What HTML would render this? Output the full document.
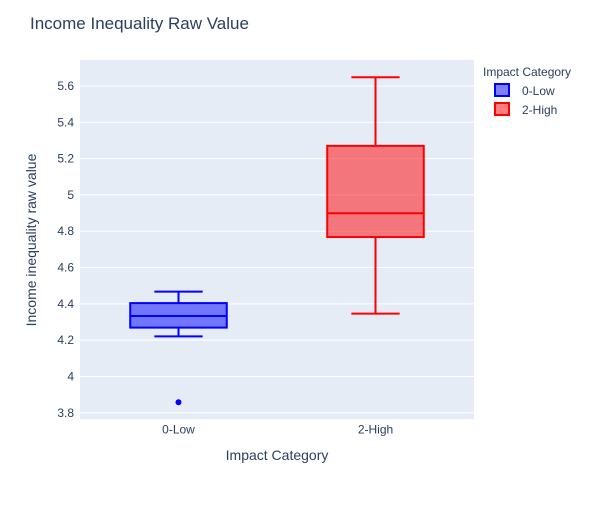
<!DOCTYPE html>
<html><head><meta charset="utf-8"><style>
body{margin:0;background:#fff;font-family:"Liberation Sans",sans-serif;}
text{font-family:"Liberation Sans",sans-serif;fill:#2a3f5f;}
</style></head><body>
<svg id="chart" width="600" height="500">
<rect x="0" y="0" width="600" height="500" fill="#fff"/>
<text x="30" y="29" font-size="17">Income Inequality Raw Value</text>
<rect x="80" y="60" width="394" height="359.3" fill="#e5ecf6"/>
<g id="grid"></g><g id="marks"></g><g id="yticks"></g><g id="xticks"></g>
<text x="277" y="460" font-size="14" text-anchor="middle">Impact Category</text>
<text transform="translate(36,240) rotate(-90)" font-size="14" text-anchor="middle">Income inequality raw value</text>
<text x="483" y="76" font-size="12">Impact Category</text>
<g><rect x="495" y="84" width="14" height="12" fill="rgba(0,0,255,0.5)" stroke="#0000ff" stroke-width="2"/><text x="522" y="95" font-size="12">0-Low</text></g>
<g><rect x="495" y="103" width="14" height="12" fill="rgba(255,0,0,0.5)" stroke="#ff0000" stroke-width="2"/><text x="522" y="114" font-size="12">2-High</text></g>
</svg>
<script>
const categories=["0-Low","2-High"];
const mins=[4.221,4.346];
const q1s=[4.269,4.768];
const medians=[4.333,4.899];
const q3s=[4.404,5.270];
const maxs=[4.467,5.648];
const outliers=[[3.858],[]];
const colors=["#0000ff","#ff0000"];
const fills=["rgba(0,0,255,0.5)","rgba(255,0,0,0.5)"];
const yTicks=[3.8,4,4.2,4.4,4.6,4.8,5,5.2,5.4,5.6];
const yTickLabels=["3.8","4","4.2","4.4","4.6","4.8","5","5.2","5.4","5.6"];
const NS="http://www.w3.org/2000/svg";
const y0=60,y1=419.3,vTop=5.743,vBot=3.764;
const x0=80,x1=474;
function Y(v){return y0+(vTop-v)/(vTop-vBot)*(y1-y0);}
function X(i){return x0+(i+0.5)*(x1-x0)/categories.length;}
const bw=(x1-x0)/categories.length*0.49;
function el(t,a,p){const e=document.createElementNS(NS,t);for(const k in a)e.setAttribute(k,a[k]);document.getElementById(p).appendChild(e);return e;}
yTicks.forEach((v,i)=>{
 const g=el("line",{x1:x0,x2:x1,y1:Y(v),y2:Y(v),stroke:"#fff","stroke-width":1},"grid");
 
 
 const t=el("text",{x:x0-6,y:Y(v)+4,"font-size":12,"text-anchor":"end"},"yticks");
 t.textContent=yTickLabels[i];
 
 
});
categories.forEach((c,i)=>{
 const cx=X(i);
 const t=el("text",{x:cx,y:y1+14,"font-size":12,"text-anchor":"middle"},"xticks");
 t.textContent=c;
 
 
 const g=el("g",{},"marks");
 
 
 const mk=(tag,a)=>{const e=document.createElementNS(NS,tag);for(const k in a)e.setAttribute(k,a[k]);g.appendChild(e);return e;};
 const s={stroke:colors[i],"stroke-width":2,fill:"none"};
 mk("line",Object.assign({x1:cx,x2:cx,y1:Y(maxs[i]),y2:Y(q3s[i])},s));
 mk("line",Object.assign({x1:cx,x2:cx,y1:Y(q1s[i]),y2:Y(mins[i])},s));
 mk("line",Object.assign({x1:cx-bw/4,x2:cx+bw/4,y1:Y(maxs[i]),y2:Y(maxs[i])},s));
 mk("line",Object.assign({x1:cx-bw/4,x2:cx+bw/4,y1:Y(mins[i]),y2:Y(mins[i])},s));
 mk("rect",{x:cx-bw/2,y:Y(q3s[i]),width:bw,height:Y(q1s[i])-Y(q3s[i]),fill:fills[i],stroke:colors[i],"stroke-width":2});
 mk("line",Object.assign({x1:cx-bw/2,x2:cx+bw/2,y1:Y(medians[i]),y2:Y(medians[i])},s));
 outliers[i].forEach(v=>{const o=mk("circle",{cx:cx,cy:Y(v),r:3,fill:colors[i]});
  
  });
});
</script>
</body></html>
